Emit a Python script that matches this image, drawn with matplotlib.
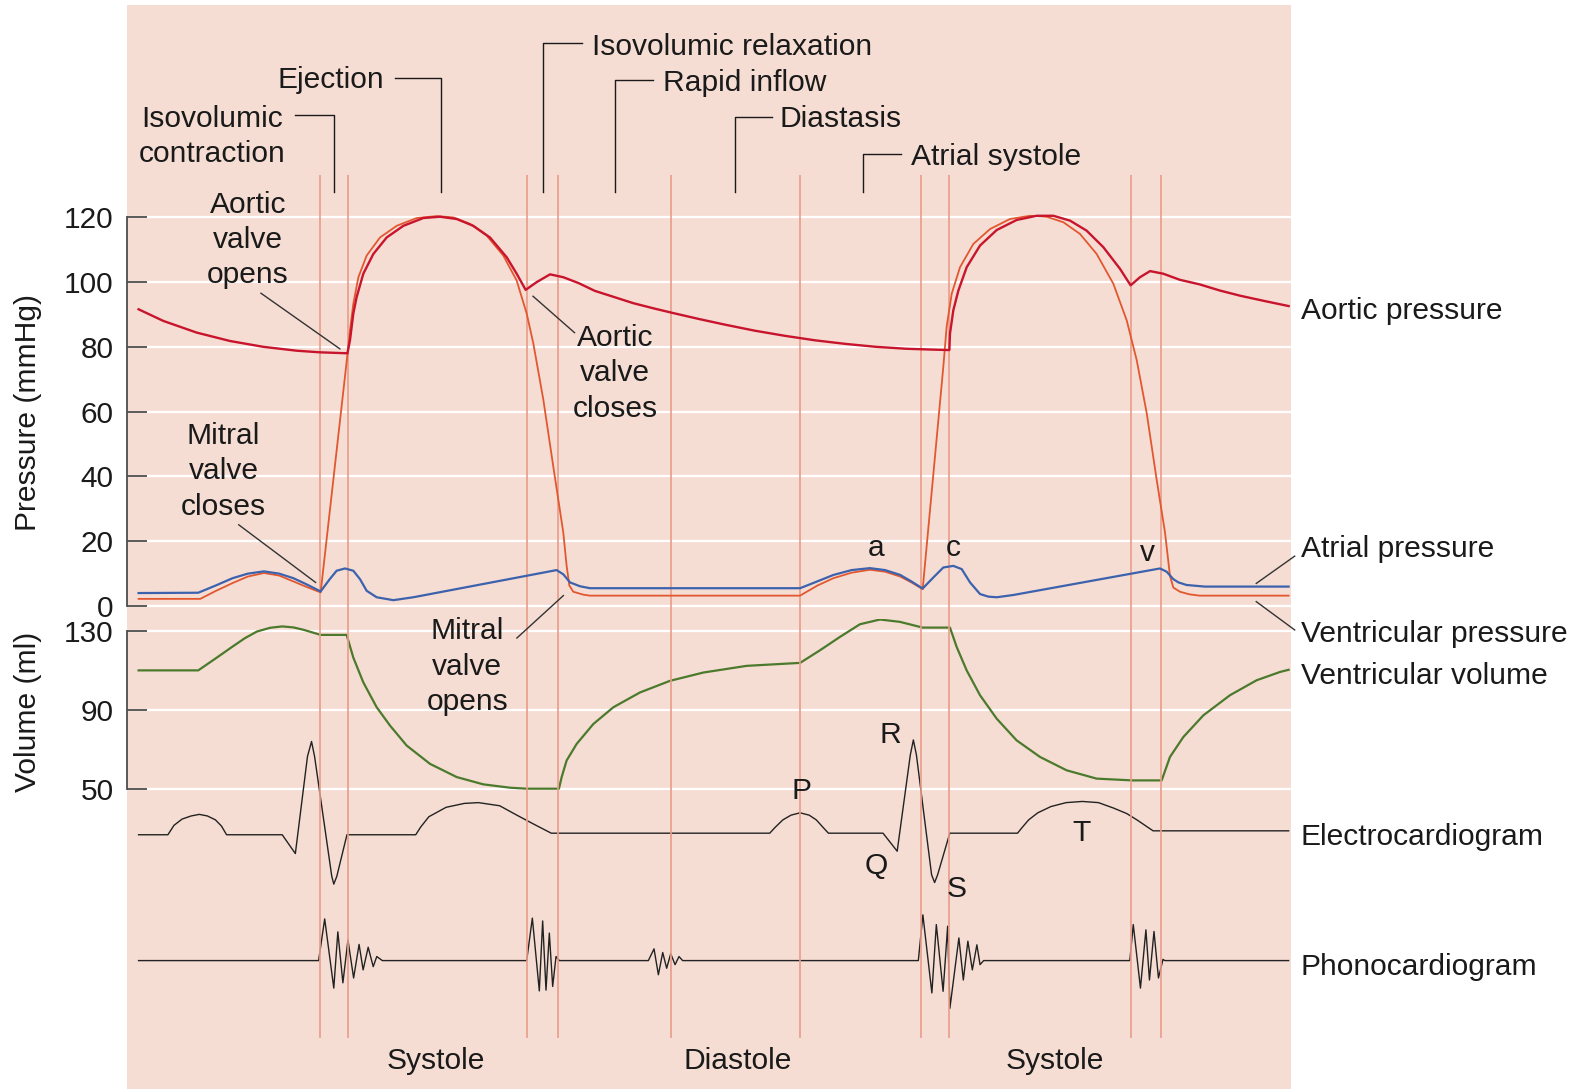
import matplotlib.pyplot as plt
from matplotlib.lines import Line2D

"""Wiggers diagram: pressures, volume, ECG and phonocardiogram over two heart beats"""

plt.rcParams.update({
    "font.family": ["Liberation Sans", "DejaVu Sans"],
    "font.size": 21.6,
    "text.color": "#1a1a1a",
})

# time axis in ms (schematic), 0 = left edge of the shaded panel
event_t = [190, 218, 395, 426, 537, 665, 785, 812, 992, 1022]  # valve events / phase borders
phase_t = [204, 310, 411, 482, 601, 727]  # where the phase labels point

aortic_t = [11, 35.5, 68.4, 101.4, 134.3, 167.3, 190.4, 217.5, 220, 223.3, 226.6, 233.2, 243.1,
            256.3, 272.8, 292.5, 309, 325.5, 341.9, 358.4, 374.9, 384.8, 393.7, 404.6, 417.8,
            431, 446, 462, 480, 500, 520, 540, 565, 590, 620, 650, 680, 710, 740, 770, 800, 812.6,
            813.2, 816.5, 821.5, 829.7, 842.9, 859.4, 879.1, 898.9, 915.4, 931.9, 948.3, 964.8,
            981.3, 991.8, 1001, 1011, 1024, 1040.6, 1060, 1080, 1100, 1125, 1148]
aortic_p = [91.6, 88.0, 84.4, 81.8, 80.0, 78.8, 78.3, 78.0, 82.0, 90.3, 95.4, 102.6, 108.7, 113.8,
            117.4, 119.8, 120.2, 119.5, 117.4, 113.8, 107.7, 102.6, 97.6, 100.0, 102.4, 101.5,
            99.7, 97.3, 95.5, 93.5, 91.9, 90.4, 88.6, 86.9, 85.0, 83.4, 82.0, 80.9, 80.0, 79.4,
            79.1, 79.0, 84.1, 91.3, 97.4, 104.6, 111.3, 116.1, 119.2, 120.5, 120.5, 119.0, 115.9,
            110.8, 104.1, 99.0, 101.5, 103.4, 102.6, 100.7, 99.3, 97.4, 95.8, 94.1, 92.6]

vent_t = [11, 72, 87, 104, 119, 135, 150, 164, 177, 191, 218, 220, 223.3, 228.3, 236.5, 249.7,
          266.2, 285.9, 305.7, 322.2, 338.7, 355.1, 371.6, 384.8, 394.7, 401.3, 411.2, 421,
          430.9, 434.2, 436.9, 440.8, 450.7, 457.3, 665, 682, 698, 716, 734, 749, 764, 775, 786.2,
          806.6, 809.9, 814.9, 823.1, 836.3, 852.8, 872.5, 892.3, 908.8, 925.3, 941.7, 958.2,
          974.7, 987.9, 997.8, 1007.7, 1017.5, 1025.8, 1030.7, 1034, 1040.6, 1050, 1060, 1148]
vent_p = [2.1, 2.1, 4.5, 7.0, 9.0, 10.1, 9.3, 7.5, 5.8, 4.1, 79.0, 85.1, 93.3, 101.5, 108.2,
          113.8, 117.4, 119.8, 120.4, 120.0, 118.0, 114.4, 108.2, 100.5, 90.3, 81.0, 63.6, 43.0,
          22.6, 12.3, 6.2, 4.3, 3.4, 3.1, 3.1, 6.2, 8.5, 10.2, 11.1, 10.5, 9.0, 7.2, 5.1, 73.8,
          86.2, 96.4, 104.6, 111.8, 116.4, 119.5, 120.5, 120.2, 118.5, 114.9, 108.7, 99.5, 88.2,
          75.9, 59.5, 39.0, 22.6, 9.2, 5.6, 4.3, 3.5, 3.1, 3.1]

atrial_t = [11, 70, 87, 104, 119, 135, 150, 164, 177, 191, 200, 206.8, 215.1, 223.3, 229.9, 236.5,
            246.4, 262.9, 282.6, 424.3, 430.9, 437.5, 447.4, 457.3, 665, 682, 698, 716, 734, 749,
            764, 775, 786.2, 796.7, 806.6, 816.5, 824.8, 833, 842.9, 851, 859.4, 875.8, 1020.8,
            1027.4, 1034, 1039, 1047, 1065, 1148]
atrial_p = [3.9, 4.0, 6.2, 8.5, 9.9, 10.6, 9.9, 8.5, 6.6, 4.4, 8.2, 10.8, 11.5, 10.8, 8.2, 4.6, 2.6,
            1.7, 2.6, 11.0, 9.7, 7.2, 6.0, 5.4, 5.4, 7.5, 9.5, 11.0, 11.6, 11.0, 9.5, 7.5, 5.3,
            8.7, 11.8, 12.3, 11.3, 7.2, 3.6, 2.8, 2.6, 3.3, 11.5, 10.5, 8.2, 7.2, 6.4, 5.9, 5.9]

vol_t = [11, 70, 87, 104, 116, 128, 141, 153, 164, 174, 191, 216.7, 223.3, 233.2, 246.4, 259.6,
         276, 299.1, 325.5, 351.8, 378.2, 394.7, 426.6, 429.3, 434.2, 444.1, 460.6, 480.4, 506.7,
         536.4, 569.3, 612.2, 665, 684.7, 704.5, 724.2, 744, 763.8, 786.2, 813.2, 819.8, 829.7,
         842.9, 859.4, 879.1, 902.2, 928.6, 958.2, 993.5, 1022.5, 1030.7, 1043.9, 1063.7, 1090,
         1116.4, 1139.5, 1148]
vol_ml = [110, 110, 116, 122.1, 126.3, 129.7, 131.6, 132.3, 131.8, 130.6, 128.0, 128.0, 116.5,
          103.9, 91.3, 82.0, 71.9, 62.6, 55.9, 52.2, 50.5, 50.0, 50.0, 55.9, 64.3, 72.7, 82.8,
          91.3, 98.8, 104.7, 108.9, 112.3, 113.8, 120.2, 127.0, 133.4, 135.8, 134.6, 131.7,
          131.7, 121.9, 110.0, 97.4, 85.5, 74.5, 66.1, 59.3, 55.1, 54.2, 54.2, 66.1, 76.2, 87.2,
          97.4, 105.0, 109.2, 110.3]

ecg_t = [11, 40, 46, 54, 63, 71, 79, 87, 93, 98, 153, 166, 178, 182, 185, 202, 204, 207, 217, 285,
         290, 298, 315, 333, 347, 368, 385, 401, 419, 635, 640, 648, 656, 665, 674, 681, 688, 693,
         747, 761, 774, 777, 780, 795, 798, 801, 813, 880, 885, 891, 900, 913, 928, 944, 960, 975,
         988, 998, 1014, 1148]
ecg_mv = [-0.02, -0.02, 0.10, 0.18, 0.22, 0.24, 0.22, 0.17, 0.09, -0.02, -0.02, -0.26, 0.98, 1.17,
          0.98, -0.55, -0.65, -0.55, -0.02, -0.02, 0.08, 0.21, 0.33, 0.38, 0.39, 0.35, 0.23, 0.12,
          0.0, 0.0, 0.07, 0.17, 0.23, 0.26, 0.23, 0.17, 0.07, 0.0, 0.0, -0.23, 1.0, 1.19, 1.0,
          -0.53, -0.63, -0.53, 0.0, 0.0, 0.08, 0.17, 0.26, 0.34, 0.39, 0.405, 0.39, 0.32, 0.25,
          0.17, 0.03, 0.03]

phono_t = [11, 189, 195, 204, 208, 213, 218, 223.6, 229, 233, 238, 243, 246.5, 252,
           394.7, 400.3, 407.2, 410.5, 413.8, 417.1, 420.4, 423.7, 427,
           515, 520.6, 524.9, 529.2, 533.1, 537.1, 541.4, 545.3, 548.9,
           781.9, 786.4, 795.3, 799.7, 806.4, 810.9, 813.1, 822, 826.4, 830.9, 835.3, 839.8, 842.9,
           846.5, 991, 994.4, 1001.5, 1006.9, 1010.4, 1014.9, 1019.3, 1023.8, 1025.6, 1148]
phono_au = [0, 0, 1.03, -0.68, 0.71, -0.55, 0.51, -0.43, 0.40, -0.23, 0.33, -0.15, 0.10, 0,
            0, 1.05, -0.75, 0.98, -0.73, 0.68, -0.64, 0.10, 0,
            0, 0.29, -0.35, 0.20, -0.19, 0.17, -0.10, 0.10, 0,
            0, 1.13, -0.80, 0.89, -0.76, 0.85, -1.18, 0.56, -0.48, 0.48, -0.23, 0.39, -0.10,
            0, 0, 0.89, -0.68, 0.76, -0.48, 0.72, -0.43, 0.03, 0, 0]

pressure_ticks = [0, 20, 40, 60, 80, 100, 120]
volume_ticks = [50, 90, 130]

PINK = "#f5ddd3"
EVENT = "#e99d89"
INK = "#1a1a1a"
AXIS = "#4d4d4d"


def fx(px):
    """pixel column of the 1568 wide layout -> figure fraction"""
    return px / 1568


def fy(py):
    """pixel row of the 1077 high layout -> figure fraction"""
    return 1 - py / 1077


def panel(top, bottom):
    return fig.add_axes([fx(126), fy(bottom), fx(1276) - fx(126), fy(top) - fy(bottom)])


def scale_axis(ax, ticks):
    ax.patch.set_alpha(0)
    for side in ["top", "right", "bottom"]:
        ax.spines[side].set_visible(False)
    ax.spines["left"].set_bounds(ticks[0], ticks[-1])
    ax.spines["left"].set_color(AXIS)
    ax.spines["left"].set_linewidth(1.3)
    ax.set_yticks(ticks)
    ax.set_xticks([])
    ax.tick_params(axis="y", direction="in", length=14.5, width=1.3, color=AXIS,
                   labelsize=21.4, pad=10, labelcolor=INK)
    ax.yaxis.grid(True, color="white", lw=1.6)
    ax.set_axisbelow(True)


fig = plt.figure(figsize=(15.86, 10.89), dpi=100)

# shaded panel behind everything
ax_bg = panel(5, 1077)
ax_bg.set_xlim(0, 1150)
ax_bg.set_ylim(1077, 5)  # rows of the layout, for the phase brackets
ax_bg.axis("off")
ax_bg.add_patch(plt.Rectangle((0, 5), 1150, 1072, color=PINK, zorder=0))

# volume, ECG and phono strips
ax_v = panel(612, 800)
ax_v.set_xlim(0, 1150)
ax_v.set_ylim(39.74, 136.15)
scale_axis(ax_v, volume_ticks)
ax_v.plot(vol_t, vol_ml, color="#4b7a2c", lw=1.6, solid_joinstyle="round")

ax_e = panel(700, 900)
ax_e.set_xlim(0, 1150)
ax_e.set_ylim(-0.9806, 1.6)
ax_e.axis("off")
ax_e.plot(ecg_t, ecg_mv, color="#222222", lw=1.0, solid_joinstyle="round")

ax_ph = panel(880, 1020)
ax_ph.set_xlim(0, 1150)
ax_ph.set_ylim(-1.75, 1.75)
ax_ph.axis("off")
ax_ph.plot(phono_t, phono_au, color="#222222", lw=1.0)

# pressure panel on top, carries the event lines
ax_p = panel(200, 612)
ax_p.set_xlim(0, 1150)
ax_p.set_ylim(-4.0625, 124.6875)
scale_axis(ax_p, pressure_ticks)
ax_p.vlines(event_t, (612 - 1027) / 412, (612 - 173) / 412, transform=ax_p.get_xaxis_transform(),
            color=EVENT, lw=1.2, clip_on=False, zorder=1.5)
ax_p.plot(vent_t, vent_p, color="#e2572f", lw=1.3, zorder=3, solid_joinstyle="round")
ax_p.plot(atrial_t, atrial_p, color="#3c62ad", lw=1.6, zorder=3, solid_joinstyle="round")
ax_p.plot(aortic_t, aortic_p, color="#c8142c", lw=1.7, zorder=4, solid_joinstyle="round")

# axis titles
fig.text(fx(28), fy(408), "Pressure (mmHg)", rotation=90, ha="center", va="center")
fig.text(fx(28), fy(704), "Volume (ml)", rotation=90, ha="center", va="center")

# phase labels with brackets (label, text x, baseline, align, bracket start x, row)
phases = [("Isovolumic\ncontraction", 210, 160, "center", 292, 114),
          ("Ejection", 327, 87, "center", 391, 77),
          ("Isovolumic relaxation", 585, 54, "left", 575, 43),
          ("Rapid inflow", 655, 90, "left", 646, 79),
          ("Diastasis", 771, 126, "left", 763, 116),
          ("Atrial systole", 901, 163, "left", 891, 152)]
for (label, tx, ty, ha, bx, row), t in zip(phases, phase_t):
    fig.text(fx(tx), fy(ty), label, ha=ha, va="baseline", multialignment="center", linespacing=1.33)
    ax_bg.plot([bx - 126, t, t], [row, row, 190], color=INK, lw=1.0, clip_on=False)

# valve annotations: text centre, last baseline, leader line
notes = [("Aortic\nvalve\nopens", 245, 280, (258, 290), (336, 345)),
         ("Aortic\nvalve\ncloses", 608, 412, (527, 293), (568, 329)),
         ("Mitral\nvalve\ncloses", 221, 509, (236, 519), (312, 576)),
         ("Mitral\nvalve\nopens", 462, 702, (511, 631), (557, 589))]
for label, tx, ty, p0, p1 in notes:
    fig.text(fx(tx), fy(ty), label, ha="center", va="baseline", multialignment="center",
             linespacing=1.33)
    fig.add_artist(Line2D([fx(p0[0]), fx(p1[0])], [fy(p0[1]), fy(p1[1])], color="#333333", lw=1.0))

# wave letters
letters = [("a", 866, 550), ("c", 942, 550), ("v", 1134, 555), ("P", 792, 790), ("R", 880, 735),
           ("Q", 866, 864), ("S", 946, 887), ("T", 1069, 832)]
for label, tx, ty in letters:
    fig.text(fx(tx), fy(ty), label, ha="center", va="baseline")

for label, tx in [("Systole", 431), ("Diastole", 729), ("Systole", 1043)]:
    fig.text(fx(tx), fy(1057), label, ha="center", va="baseline")

# trace names on the right
names = [("Aortic pressure", 315), ("Atrial pressure", 551), ("Ventricular pressure", 635),
         ("Ventricular volume", 676), ("Electrocardiogram", 836), ("Phonocardiogram", 964)]
for label, ty in names:
    fig.text(fx(1286), fy(ty), label, ha="left", va="baseline")
fig.add_artist(Line2D([fx(1242), fx(1280)], [fy(577), fy(550)], color="#333333", lw=1.0))
fig.add_artist(Line2D([fx(1242), fx(1280)], [fy(595), fy(623)], color="#333333", lw=1.0))

fig.savefig("out.png", dpi=100, facecolor="white")
